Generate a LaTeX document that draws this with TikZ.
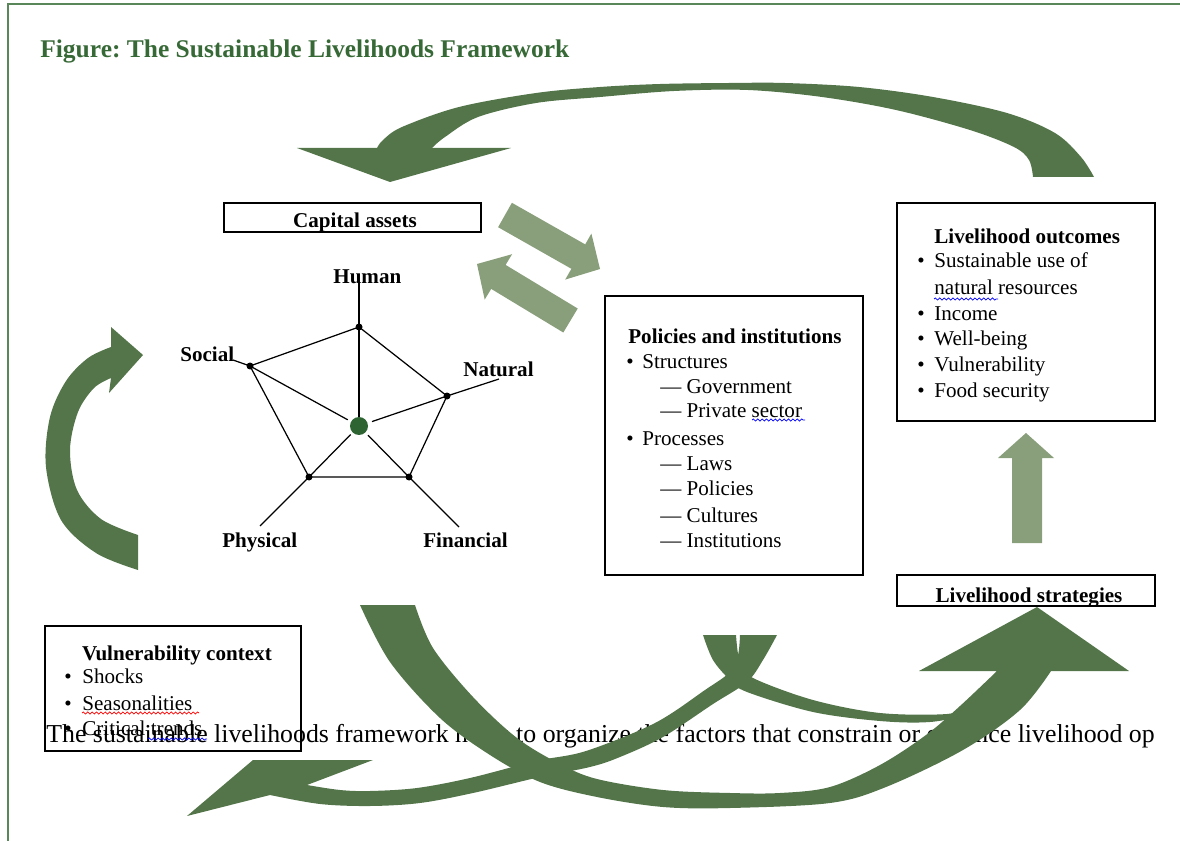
\documentclass[tikz,border=0pt]{standalone}
\usepackage{fontspec}
\setmainfont{Liberation Serif}
\usetikzlibrary{decorations.pathmorphing}
\definecolor{dg}{RGB}{83,117,73}
\definecolor{lg}{RGB}{137,158,122}
\definecolor{tg}{RGB}{55,105,55}
\definecolor{fg}{RGB}{90,135,90}
\definecolor{cdotc}{RGB}{45,100,50}
\frenchspacing
\begin{document}
\begin{tikzpicture}[x=0.02cm,y=-0.02cm,
  txt/.style={anchor=base west, inner sep=0pt, font=\fontsize{12}{14}\selectfont},
  btxt/.style={anchor=base west, inner sep=0pt, font=\fontsize{12}{14}\selectfont\bfseries},
  box/.style={draw, line width=0.9pt, inner sep=0pt},
  edge/.style={line width=0.7pt},
  vdot/.style={circle, fill=black, inner sep=0pt, minimum size=0.14cm},
  cdot/.style={circle, fill=cdotc, inner sep=0pt, minimum size=0.36cm},
  wavy/.style={line width=0.4pt, decorate, decoration={snake, amplitude=0.6pt, segment length=2.5pt}}
]
\useasboundingbox (0,0) rectangle (1180,841);
\draw[fg, line width=1pt] (8,841) -- (8,4) -- (1180,4);

% title
\node[btxt, text=tg, font=\fontsize{14.5}{16}\selectfont\bfseries] (title) at (40,58) {Figure: The Sustainable Livelihoods Framework};

% body text (lies under the arrows)
\node[txt, font=\fontsize{14.7}{17}\selectfont] (body) at (46,742) {The sustainable livelihoods framework helps to organize the factors that constrain or enhance livelihood op};

% boxes
\node[box, minimum width=5.14cm, minimum height=0.58cm] (capbox) at (352.5,217.5) {};
\node[box, minimum width=5.16cm, minimum height=4.36cm] (outbox) at (1026,312) {};
\node[box, minimum width=5.16cm, minimum height=5.58cm] (polbox) at (734,435.5) {};
\node[box, minimum width=5.16cm, minimum height=0.62cm] (strbox) at (1026,590.5) {};
\node[box, minimum width=5.12cm, minimum height=2.5cm] (vulbox) at (173,688.5) {};

% capital assets
\node[btxt, anchor=base] (captxt) at (355,228) {Capital assets};

% pentagon
\node[vdot] (H) at (359,327) {};
\node[vdot] (N) at (447,396) {};
\node[vdot] (F) at (409,477) {};
\node[vdot] (P) at (309,477) {};
\node[vdot] (S) at (250,366) {};
\node[cdot] (C) at (359,426) {};
\coordinate (Hx) at (359,283);
\coordinate (Nx) at (499,379);
\coordinate (Fx) at (459,527);
\coordinate (Px) at (260,526);
\coordinate (Sx) at (233,360);
\draw[edge] (H.center) -- (N.center) -- (F.center) -- (P.center) -- (S.center) -- cycle;
\draw[edge] (H.center) -- (Hx);
\draw[edge] (N.center) -- (Nx);
\draw[edge] (F.center) -- (Fx);
\draw[edge] (P.center) -- (Px);
\draw[edge] (S.center) -- (Sx);
\draw[edge] (C) -- (H.center);
\draw[edge, shorten <=2.5pt] (C) -- (N.center);
\draw[edge, shorten <=2pt] (C) -- (F.center);
\draw[edge, shorten <=1.5pt] (C) -- (P.center);
\draw[edge, shorten <=2pt] (C) -- (S.center);
\node[btxt] (lH) at (333,283) {Human};
\node[btxt] (lS) at (180,361) {Social};
\node[btxt] (lN) at (463,376) {Natural};
\node[btxt] (lP) at (222,547) {Physical};
\node[btxt] (lF) at (423,547) {Financial};

% policies and institutions
\node[btxt] (pt) at (628,343) {Policies and institutions};
\node[txt] (pb1) at (626,368) {•};
\node[txt] (p1) at (642,368) {Structures};
\node[txt] (p11) at (660,393) {— Government};
\node[txt] (p12) at (660,417) {— Private sector};
\node[txt] (pb2) at (626,445) {•};
\node[txt] (p2) at (642,445) {Processes};
\node[txt] (p21) at (660,470) {— Laws};
\node[txt] (p22) at (660,495) {— Policies};
\node[txt] (p23) at (660,522) {— Cultures};
\node[txt] (p24) at (660,547) {— Institutions};
\draw[blue, wavy] (752,420) -- (805,420);

% livelihood outcomes
\node[btxt] (ot) at (934,244) {Livelihood outcomes};
\node[txt] (ob1) at (917,268) {•};
\node[txt] (o1) at (934,268) {Sustainable use of};
\node[txt] (o1b) at (934,295) {natural resources};
\node[txt] (ob2) at (917,320) {•};
\node[txt] (o2) at (934,320) {Income};
\node[txt] (ob3) at (917,345) {•};
\node[txt] (o3) at (934,345) {Well-being};
\node[txt] (ob4) at (917,371) {•};
\node[txt] (o4) at (934,371) {Vulnerability};
\node[txt] (ob5) at (917,397) {•};
\node[txt] (o5) at (934,397) {Food security};
\draw[blue, wavy] (934,299) -- (998,299);

% livelihood strategies
\node[btxt, anchor=base] (st) at (1029,602) {Livelihood strategies};

% vulnerability context
\node[btxt, anchor=base] (vt) at (177,660) {Vulnerability context};
\node[txt] (vb1) at (64,683) {•};
\node[txt] (v1) at (82,683) {Shocks};
\node[txt] (vb2) at (64,710) {•};
\node[txt] (v2) at (82,710) {Seasonalities};
\node[txt] (vb3) at (64,735) {•};
\node[txt] (v3) at (82,735) {Critical trends};
\draw[red, wavy] (82,713) -- (199,713);
\draw[blue, wavy] (148,739) -- (207,739);

% light block arrows
\fill[lg] (511.9,202.8) -- (585.2,244.4) -- (591.4,233.6) -- (600,269) -- (565.2,279.6) -- (571.4,268.8) -- (498.1,227.2) -- cycle;
\fill[lg] (577.7,308.5) -- (505.6,264.9) -- (512.1,254.2) -- (477,264) -- (484.7,299.6) -- (491.2,288.9) -- (563.3,332.5) -- cycle;
\fill[lg] (1012,543) -- (1012,458) -- (998,458) -- (1026,433) -- (1054,458) -- (1042,458) -- (1042,543) -- cycle;

% top curved arrow
\fill[dg] plot[smooth, tension=0.55] coordinates {(1094,177) (1081,157) (1055,133) (1007,113) (933,97) (859,87) (785,83) (729,83) (660,84) (600,87) (536,93) (459,107) (402,127) (383,140) (377,148)}
  -- (297,148) -- (390,182) -- (511,148) -- (432,148)
  -- plot[smooth, tension=0.55] coordinates {(432,148) (445,137) (478,117) (536,103) (600,97) (674,91) (748,90) (822,97) (896,110) (970,130) (1014,147) (1029,160) (1033,177)} -- cycle;

% left curved arrow
\fill[dg] plot[smooth, tension=0.55] coordinates {(138,570) (96,553) (61,520) (46,467) (50,417) (66,381) (88,358) (111,347)}
  -- (111,327) -- (143,355) -- (109,393) -- (111,378)
  -- plot[smooth, tension=0.55] coordinates {(111,378) (94,388) (78,412) (70,450) (77,490) (101,519) (138,535)} -- cycle;

% bottom arrow A (to livelihood strategies)
\fill[dg] plot[smooth, tension=0.55] coordinates {(360,605) (390,662) (440,718) (490,755) (540,782) (597,797) (663,807) (730,808) (830,803) (886,787) (963,750) (1020,710) (1051,671)}
  -- (1129,671) -- (1037,607) -- (919,671) -- (997,671)
  -- plot[smooth, tension=0.55] coordinates {(997,671) (960,706) (926,735) (880,765) (830,787) (780,793) (730,793) (663,790) (597,779) (560,764) (517,738) (473,697) (433,648) (415,605)} -- cycle;

% strand joining arrow A
\fill[dg] (703,635) -- plot[smooth, tension=0.55] coordinates {(703,635) (713,660) (730,680) (747,692) (813,712) (880,721) (930,722) (975,714)}
  -- plot[smooth, tension=0.55] coordinates {(972,706) (947,714) (880,713) (813,700) (753,678) (740,663) (736,635)} -- cycle;

% bottom arrow B (to lower left)
\fill[dg] plot[smooth, tension=0.55] coordinates {(777,635) (763,660) (747,682) (713,704) (663,737) (620,757) (590,767) (540,777) (473,793) (420,803) (370,806) (320,804) (270,795)}
  -- (187,816) -- (253,760) -- (373,760) -- (307,785)
  -- plot[smooth, tension=0.55] coordinates {(307,785) (340,790) (370,791) (417,788) (470,778) (536,761) (586,751) (655,723) (705,690) (730,672) (738,655) (740,635)} -- cycle;
\end{tikzpicture}
\end{document}
